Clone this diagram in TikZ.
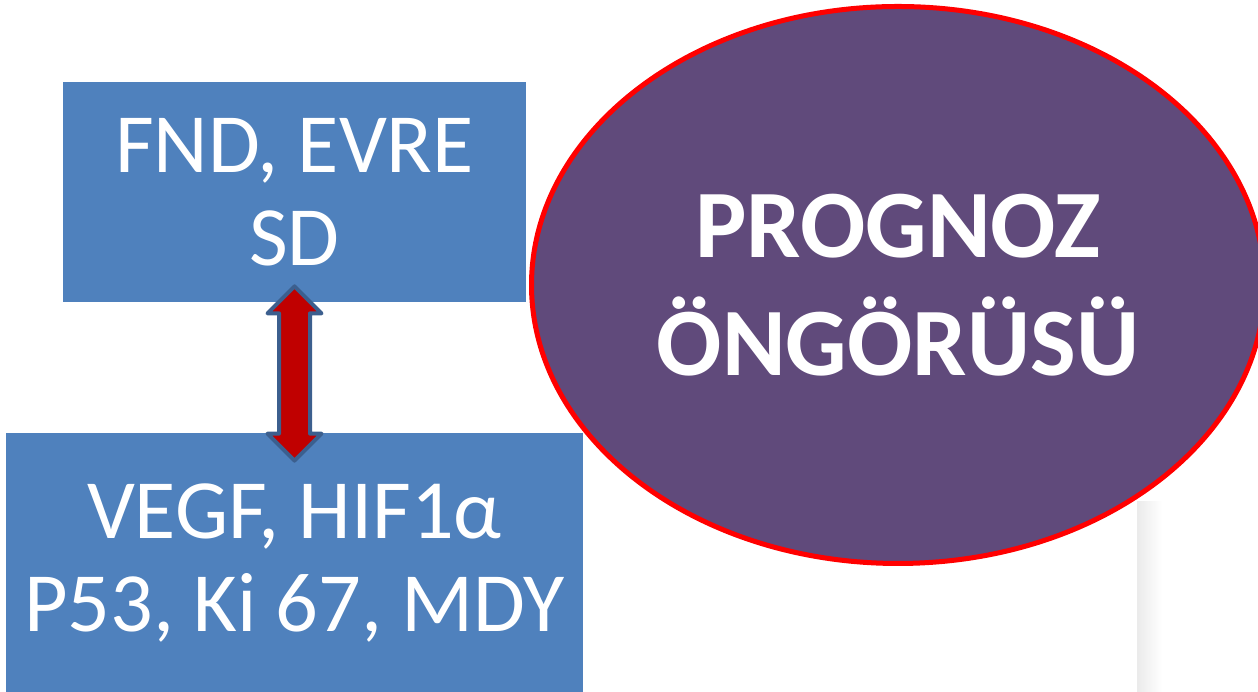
\documentclass[tikz,border=0pt]{standalone}
\usepackage{fontspec}
\setmainfont{Carlito}
\usetikzlibrary{calc,positioning,shapes.geometric}

\definecolor{boxblue}{HTML}{4F81BD}
\definecolor{arrowedge}{HTML}{3C5F8E}
\definecolor{arrowred}{HTML}{C00000}
\definecolor{ovalpurple}{HTML}{604A7B}

\tikzset{
    bluebox/.style={fill=boxblue, text=white, align=center, inner sep=0pt,
        font={\fontsize{48}{53}\selectfont}},
    prognozoval/.style={ellipse, fill=ovalpurple, draw=red, line width=0.1cm,
        text=white, align=center, inner sep=0pt,
        font={\fontsize{55}{67}\selectfont\bfseries}},
}

\begin{document}
\begin{tikzpicture}
            \useasboundingbox
                (0,0) rectangle (25.16,13.84)
            ;
            \clip
                (0,0) rectangle (25.16,13.84)
            ;
            % faint edge of the cropped photo
            \shade[left color=black!8, right color=white]
                (22.74,0) rectangle ++(0.5,3.8)
            ;
            \node[bluebox, minimum width=9.26cm, minimum height=4.4cm]
                (fnd) at (5.89,10.0) {FND, EVRE\\SD};
            \node[bluebox, minimum width=11.54cm, minimum height=5.2cm]
                (vegf) at (5.89,2.58) {VEGF, HIF1α\\P53, Ki 67, MDY};
            \node[prognozoval, minimum width=14.66cm, minimum height=11.14cm]
                (prognoz) at (17.96,8.14) {PROGNOZ\\ÖNGÖRÜSÜ};
            \coordinate (tipA) at ($(fnd.south)+(0,0.32)$);
            \coordinate (tipB) at ($(vegf.north)+(0,-0.56)$);
            \draw[fill=arrowred, draw=arrowedge, line width=0.08cm, line join=round]
                (tipA)
                    -- ++(-0.54,-0.54) -- ++(0.23,0)
                    -- ($(tipB)+(-0.31,0.54)$) -- ++(-0.23,0)
                    -- (tipB)
                    -- ++(0.54,0.54) -- ++(-0.23,0)
                    -- ($(tipA)+(0.31,-0.54)$) -- ++(0.23,0)
                    -- cycle
            ;
        \end{tikzpicture}
\end{document}
